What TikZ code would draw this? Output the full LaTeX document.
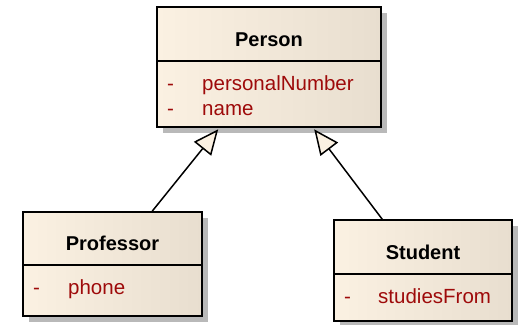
\documentclass[tikz,border=0pt]{standalone}
\usepackage{fontspec}
\setmainfont{Liberation Sans}
\usetikzlibrary{arrows.meta,calc,shadows}
\definecolor{boxleft}{RGB}{251,241,226}
\definecolor{boxright}{RGB}{232,222,207}
\definecolor{attrred}{RGB}{158,10,10}
\definecolor{shadowgray}{RGB}{185,185,185}
\tikzset{
  classbox/.style={draw=black, line width=1.6pt, inner sep=0pt,
    left color=boxleft, right color=boxright,
    drop shadow={shadow xshift=6pt, shadow yshift=-6pt, fill=shadowgray, opacity=1}},
  classname/.style={font=\fontsize{20}{23}\selectfont\bfseries, anchor=base},
  attrtext/.style={font=\fontsize{20.5}{23}\selectfont, text=attrred, anchor=base west, inner sep=0pt},
  divider/.style={line width=1.6pt},
  generalization/.style={line width=1.5pt,
    -{Triangle[length=25pt, width=22pt, fill=boxleft, line width=1.5pt]}}
}
\begin{document}
\begin{tikzpicture}[x=1pt, y=-1pt]
\useasboundingbox (0,0) rectangle (518,324);

% Person
\node[classbox, minimum width=224pt, minimum height=120pt] (person) at (269,67) {};
\draw[divider] ($(person.north west)+(0,55)$) -- ($(person.north east)+(0,55)$);
\node[classname] (personname) at (269,46) {Person};
\node[attrtext] (pdash1) at (167,90) {-};
\node[attrtext] (pattr1) at (202,90) {personalNumber};
\node[attrtext] (pdash2) at (167,115) {-};
\node[attrtext] (pattr2) at (202,115) {name};

% Professor
\node[classbox, minimum width=179pt, minimum height=104pt] (prof) at (112.5,264) {};
\draw[divider] ($(prof.north west)+(0,54)$) -- ($(prof.north east)+(0,54)$);
\node[classname] (profname) at (112.5,250) {Professor};
\node[attrtext] (prdash) at (33,294) {-};
\node[attrtext] (prattr) at (68,294) {phone};

% Student
\node[classbox, minimum width=178pt, minimum height=101pt] (stud) at (423,270.5) {};
\draw[divider] ($(stud.north west)+(0,55)$) -- ($(stud.north east)+(0,55)$);
\node[classname] (studname) at (423,259) {Student};
\node[attrtext] (sdash) at (344,303) {-};
\node[attrtext] (sattr) at (378,303) {studiesFrom};

% Generalizations
\draw[generalization] ($(prof.north west)+(130,0)$) -- ($(person.south west)+(62,1.5)$);
\draw[generalization] ($(stud.north west)+(49,0)$) -- ($(person.south west)+(158,1.5)$);
\end{tikzpicture}
\end{document}
